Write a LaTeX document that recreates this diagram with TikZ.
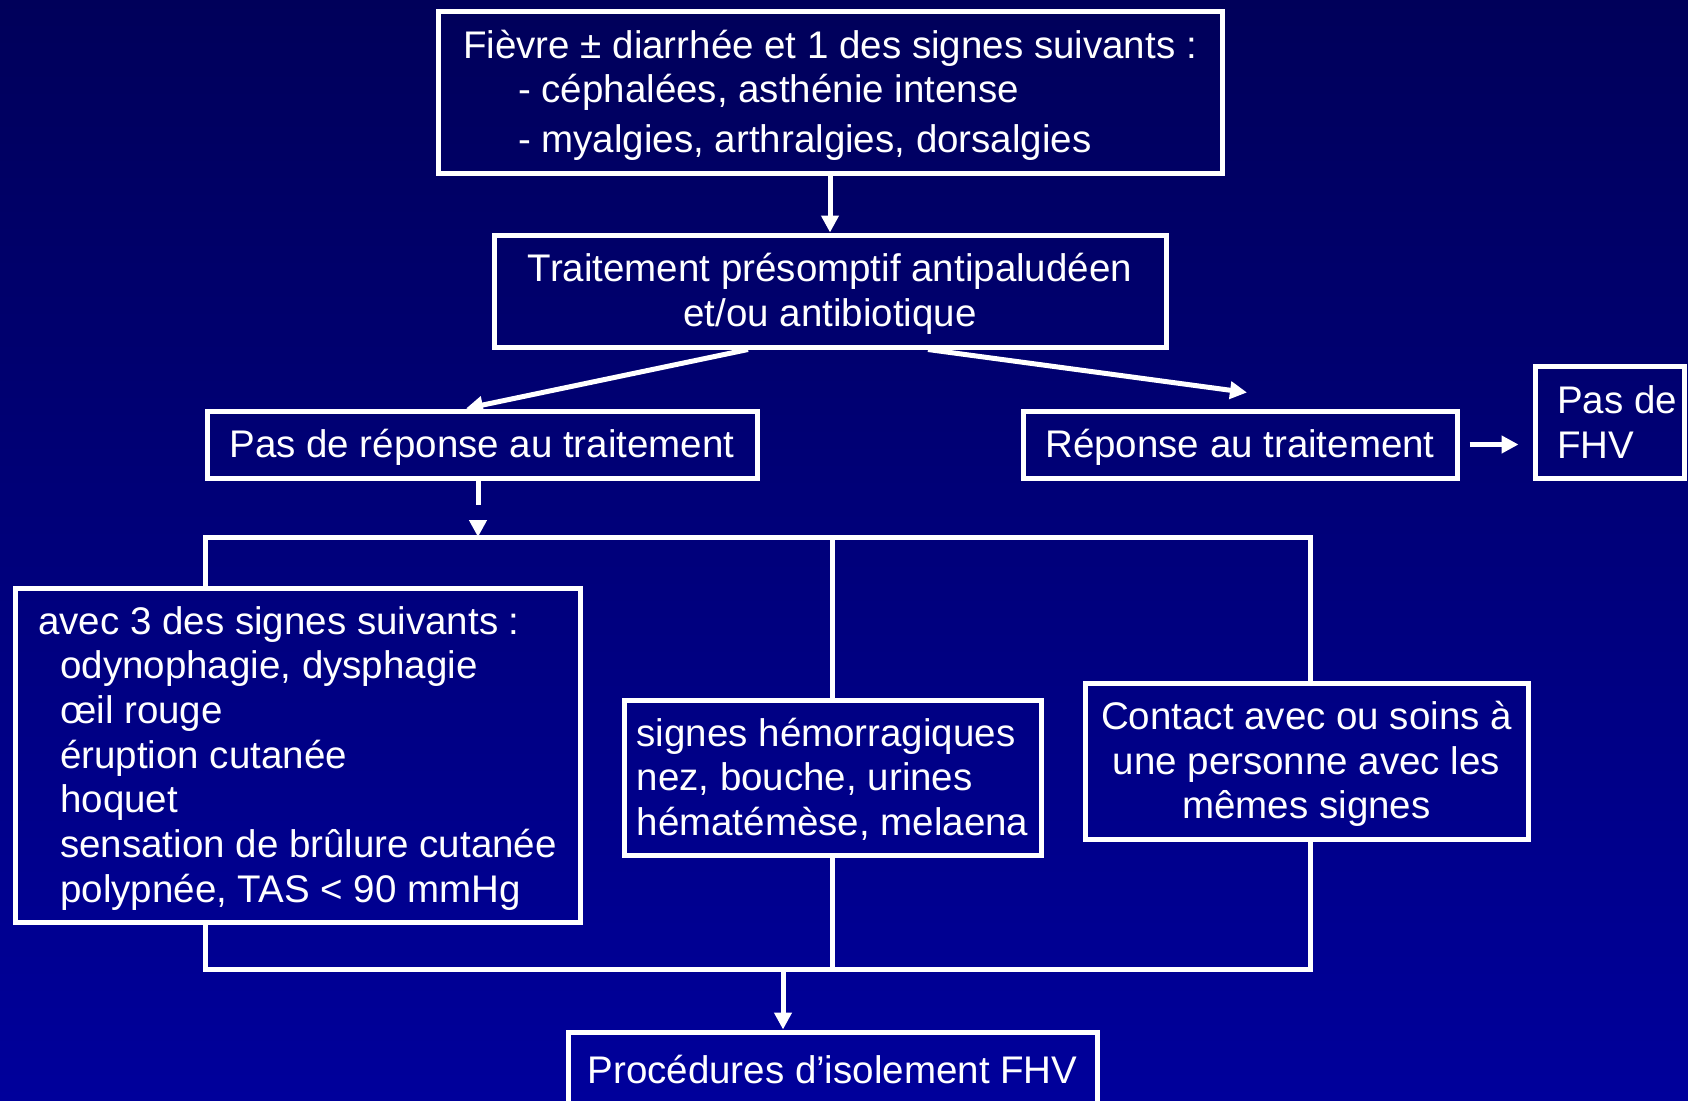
\documentclass[tikz,border=0pt]{standalone}
\usepackage{fontspec}
\setmainfont{Liberation Sans}
\usetikzlibrary{arrows.meta,calc}
\definecolor{bgtop}{RGB}{0,0,90}
\definecolor{bgbot}{RGB}{0,0,155}
\newcommand{\stt}{\rule[-9pt]{0pt}{44.5pt}}
\begin{document}
\begin{tikzpicture}[x=1pt,y=-1pt,
  box/.style={draw=white, line width=5pt, text=white, inner sep=0pt,
    font=\fontsize{38.5}{44.7}\selectfont},
  conn/.style={draw=white, line width=5pt, line join=miter},
  arr/.style={conn, -{Triangle[length=17pt,width=17pt]}}]
\shade[top color=bgtop,bottom color=bgbot] (0,0) rectangle (1688,1100);
\useasboundingbox (0,0) rectangle (1688,1100);

\node[box, minimum width=784, minimum height=162, align=left] (top) at (830,92)
  {\stt Fièvre ± diarrhée et 1 des signes suivants :\\
   \hspace*{55pt}- céphalées, asthénie intense\\[5pt]
   \hspace*{55pt}- myalgies, arthralgies, dorsalgies\stt};

\node[box, minimum width=672, minimum height=112, align=center] (treat) at (830,291)
  {\stt Traitement présomptif antipaludéen\\et/ou antibiotique\stt};

\node[box, minimum width=550, minimum height=67] (noresp) at (482,444.5)
  {\stt Pas de réponse au traitement};

\node[box, minimum width=434, minimum height=67] (resp) at (1240,444.5)
  {\stt Réponse au traitement};

\node[box, minimum width=149, minimum height=112, align=left] (pasfhv) at (1609.5,422)
  {\hspace*{15pt}Pas de\\\hspace*{15pt}FHV};

\node[box, minimum width=565, minimum height=334, align=left] (left) at (297.5,755)
  {\stt avec 3 des signes suivants :\\
   \hspace*{22pt}odynophagie, dysphagie\\
   \hspace*{22pt}œil rouge\\
   \hspace*{22pt}éruption cutanée\\
   \hspace*{22pt}hoquet\\
   \hspace*{22pt}sensation de brûlure cutanée\\
   \hspace*{22pt}polypnée, TAS < 90 mmHg\stt};

\node[box, minimum width=417, minimum height=155, align=left] (mid) at (832.5,777.5)
  {\stt signes hémorragiques\\nez, bouche, urines\\hématémèse, melaena\stt};

\node[box, minimum width=443, minimum height=156, align=center] (right) at (1306.5,761)
  {\stt Contact avec ou soins à\\une personne avec les\\mêmes signes\stt};

\node[box, minimum width=529, minimum height=74] (bot) at (832.5,1069)
  {Procédures d’isolement FHV};

\coordinate (tl) at (205,537);
\coordinate (tr) at (1310,537);
\coordinate (bl) at (205,969);
\coordinate (br) at (1310,969);
\coordinate (bm) at (783,969);

\draw[arr] (top.south) -- (treat.north);
\draw[arr] ([xshift=-82pt]treat.south) -- ([xshift=-16pt]noresp.north);
\draw[arr] ([xshift=98pt]treat.south) -- ([xshift=7pt,yshift=16pt]resp.north);
\draw[arr] ([xshift=10pt]resp.east) -- ([xshift=-14pt]resp.east -| pasfhv.west);

\draw[arr, dash pattern=on 24pt off 60pt] ([xshift=-4pt]noresp.south) -- ([xshift=-4pt]noresp.south |- tl);

\draw[conn] (left.north -| tl) -- (tl) -- (tr) -- (right.north -| tr);
\draw[conn] (tl -| mid.north) -- (mid.north);
\draw[conn] (left.south -| bl) -- (bl) -- (br) -- (right.south -| br);
\draw[conn] (mid.south) -- (bl -| mid.south);
\draw[arr] (bm) -- (bm |- bot.north);
\end{tikzpicture}
\end{document}
